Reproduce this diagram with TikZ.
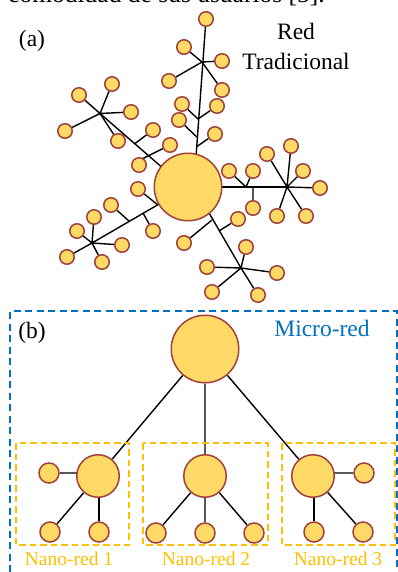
\documentclass[tikz,border=0pt]{standalone}
\usepackage{fontspec}
\setmainfont{Liberation Serif}
\usetikzlibrary{backgrounds}
\definecolor{fl}{HTML}{FFD966}
\definecolor{bd}{HTML}{A0413A}
\definecolor{ny}{HTML}{FFC000}
\definecolor{mb}{HTML}{0070C0}
\tikzset{
  x=1pt,y=-1pt,
  sm/.style={circle,draw=bd,fill=fl,line width=1.5pt,minimum size=14.5pt,inner sep=0pt},
  bg/.style={sm,minimum size=67.5pt},
  md/.style={sm,minimum size=42.5pt},
  lf/.style={sm,minimum size=20pt},
  ln/.style={draw=black,line width=1.4pt},
  nbox/.style={draw=ny,line width=1.4pt,dash pattern=on 6.5pt off 4pt},
  mbox/.style={draw=mb,line width=1.4pt,dash pattern=on 7pt off 4.5pt},
  lab/.style={inner sep=0pt,font=\fontsize{23.5}{24}\selectfont},
  nlab/.style={inner sep=0pt,text=ny,font=\fontsize{19.5}{20}\selectfont},
}
\begin{document}
\begin{tikzpicture}
\useasboundingbox (0,0) rectangle (398,572);
\node[anchor=base west,inner sep=0pt,font=\fontsize{25.5}{26}\selectfont] (head) at (8,3) {comodidad de sus usuarios [5].};
\node[lab] (la) at (32,41) {(a)};
\node[lab] (lb) at (32,333) {(b)};
\node[lab] (lr) at (296,31) {Red};
\node[lab] (lt) at (296,61) {Tradicional};
\node[lab,text=mb] (lm) at (322,328) {Micro-red};
% part a
\node[bg] (B) at (188,187) {};
% top
\coordinate (rT) at (196,157);
\coordinate (hT) at (202,62);
\coordinate (j1) at (198,119);
\coordinate (j2) at (196.8,137);
\coordinate (j3) at (196.2,147);
\node[sm] (t1) at (206,19) {};
\node[sm] (t2) at (184,47) {};
\node[sm] (t3) at (222,61) {};
\node[sm] (t4) at (222,90) {};
\node[sm] (t5) at (169,81) {};
\node[sm] (t6) at (182,104) {};
\node[sm] (t7) at (217,106) {};
\node[sm] (t8) at (179,120) {};
\node[sm] (t9) at (215,134) {};
% upper left
\coordinate (rU) at (165,170);
\coordinate (hU) at (100,113.5);
\coordinate (j4) at (135,143.5);
\coordinate (j6) at (143,158.5);
\node[sm] (u1) at (112,84) {};
\node[sm] (u2) at (79,95) {};
\node[sm] (u3) at (131,112) {};
\node[sm] (u4) at (65,131) {};
\node[sm] (u5) at (118,141) {};
\node[sm] (u6) at (153,130) {};
\node[sm] (u7) at (170,145) {};
\node[sm] (u8) at (139,165) {};
% lower left
\coordinate (rL) at (160,203.5);
\coordinate (rN) at (158,205);
\coordinate (hL) at (92,243);
\coordinate (j7) at (129,221);
\coordinate (j8) at (143,213);
\node[sm] (l1) at (94,217) {};
\node[sm] (l2) at (77,231) {};
\node[sm] (l3) at (122,245) {};
\node[sm] (l4) at (67,257) {};
\node[sm] (l5) at (102,262) {};
\node[sm] (l6) at (111,205) {};
\node[sm] (l7) at (153,231) {};
\node[sm] (l8) at (138,189) {};
% right
\coordinate (rR) at (218,187);
\coordinate (hR) at (287,187);
\coordinate (j9) at (246,187);
\coordinate (j10) at (253,187);
\node[sm] (r1) at (291,146) {};
\node[sm] (r2) at (267,154) {};
\node[sm] (r3) at (303,171) {};
\node[sm] (r4) at (320,188) {};
\node[sm] (r5) at (306,216) {};
\node[sm] (r6) at (277,216) {};
\node[sm] (r7) at (229,171) {};
\node[sm] (r8) at (253,171) {};
\node[sm] (r9) at (253,208) {};
% lower right
\coordinate (rD) at (208.5,212);
\coordinate (rE) at (212,220);
\coordinate (hD) at (241,268);
\coordinate (j11) at (219,231);
\node[sm] (d1) at (246,247) {};
\node[sm] (d2) at (207,267) {};
\node[sm] (d3) at (277,273) {};
\node[sm] (d4) at (212,292) {};
\node[sm] (d5) at (258,295) {};
\node[sm] (d6) at (238,219) {};
\node[sm] (d7) at (184,243) {};
% part b
\node[bg] (M) at (205,349) {};
\node[md] (n1) at (98,476) {};
\node[md] (n2) at (205,476) {};
\node[md] (n3) at (313,476) {};
\node[lf] (a1) at (49,473) {};
\node[lf] (a2) at (50,532) {};
\node[lf] (a3) at (99,532) {};
\node[lf] (b1) at (156,533) {};
\node[lf] (b2) at (205,533) {};
\node[lf] (b3) at (254,533) {};
\node[lf] (c1) at (364,473) {};
\node[lf] (c2) at (314,532) {};
\node[lf] (c3) at (363,532) {};
\draw[nbox] (16,443) rectangle (129,545);
\draw[nbox] (143,443) rectangle (268,545);
\draw[nbox] (282,443) rectangle (395,545);
\draw[mbox] (10,572) -- (10,311) -- (397,311) -- (397,572);
\node[nlab] (k1) at (69,559) {Nano-red 1};
\node[nlab] (k2) at (206,559) {Nano-red 2};
\node[nlab] (k3) at (338,559) {Nano-red 3};
\begin{scope}[on background layer]
\draw[ln] (rT) -- (t1);
\draw[ln] (hT) -- (t2) (hT) -- (t3) (hT) -- (t4) (hT) -- (t5);
\draw[ln] (j1) -- (t6) (j1) -- (t7) (j2) -- (t8) (j3) -- (t9);
\draw[ln] (rU) -- (hU);
\draw[ln] (hU) -- (u1) (hU) -- (u2) (hU) -- (u3) (hU) -- (u4) (hU) -- (u5);
\draw[ln] (j4) -- (u6) (j6) -- (u7) (j6) -- (u8);
\draw[ln] (rL) -- (hL);
\draw[ln] (hL) -- (l1) (hL) -- (l2) (hL) -- (l3) (hL) -- (l4) (hL) -- (l5);
\draw[ln] (j7) -- (l6) (j8) -- (l7) (rN) -- (l8);
\draw[ln] (rR) -- (hR);
\draw[ln] (hR) -- (r1) (hR) -- (r2) (hR) -- (r3) (hR) -- (r4) (hR) -- (r5) (hR) -- (r6);
\draw[ln] (j9) -- (r7) (j9) -- (r8) (j10) -- (r9);
\draw[ln] (rD) -- (hD);
\draw[ln] (hD) -- (d1) (hD) -- (d2) (hD) -- (d3) (hD) -- (d4) (hD) -- (d5);
\draw[ln] (j11) -- (d6) (rE) -- (d7);
\draw[ln] (M) -- (n1) (M) -- (n2) (M) -- (n3);
\draw[ln] (a1) -- (a1 -| n1) (n1) -- (a2);
\draw[ln] (a3 |- n1) -- (a3);
\draw[ln] (n2) -- (b1) (n2) -- (b2) (n2) -- (b3);
\draw[ln] (c1) -- (c1 -| n3) (n3) -- (c3);
\draw[ln] (c2 |- n3) -- (c2);
\end{scope}
\end{tikzpicture}
\end{document}
